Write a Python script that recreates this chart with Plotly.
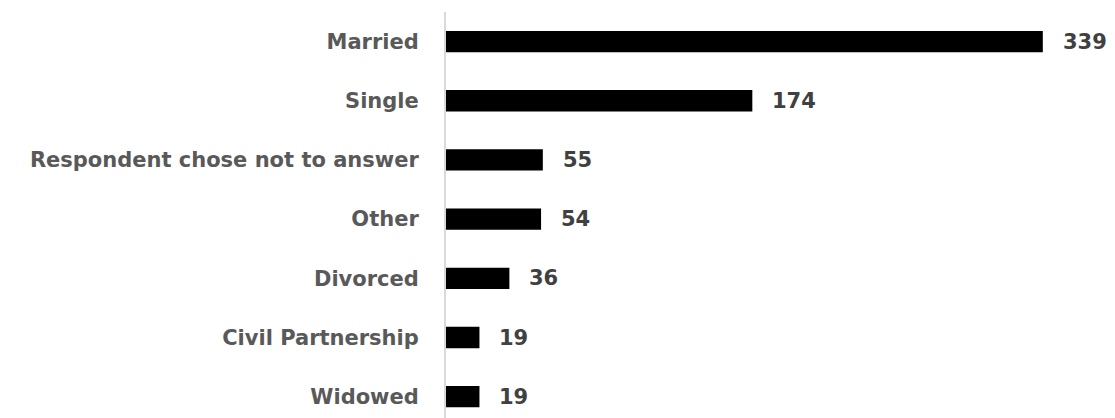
import plotly.graph_objects as go

categories = ['Married', 'Single', 'Respondent chose not to answer', 'Other',
              'Divorced', 'Civil Partnership', 'Widowed']
counts = [339, 174, 55, 54, 36, 19, 19]

font_family = 'DejaVu Sans'

fig = go.Figure()
fig.add_trace(go.Bar(
    x=counts,
    y=categories,
    orientation='h',
    marker=dict(color='#000000', line=dict(width=0)),
    width=0.36,
    hoverinfo='x+y',
))

# value labels sit a little to the right of each bar
for cat, val in zip(categories, counts):
    fig.add_annotation(
        x=val, y=cat, text=str(val),
        xanchor='left', yanchor='middle', xshift=18,
        showarrow=False,
        font=dict(family=font_family, size=21, color='#404040', weight='bold'),
    )

fig.update_layout(
    width=1115,
    height=418,
    margin=dict(l=446, r=0, t=12, b=0),
    plot_bgcolor='white',
    paper_bgcolor='white',
    showlegend=False,
    xaxis=dict(
        range=[0, 380],
        visible=False,
        showgrid=False,
        zeroline=False,
    ),
    yaxis=dict(
        range=[6.36, -0.5],
        showgrid=False,
        zeroline=False,
        showline=True,
        linecolor='#d9d9d9',
        linewidth=2,
        ticks='',
        ticklabelstandoff=21,
        tickfont=dict(family=font_family, size=21, color='#595959', weight='bold'),
    ),
)

# drop the browser's default body margin so the figure fills the window exactly
fig.write_html('out.html',
               config={'displayModeBar': False},
               post_script="document.body.style.margin='0';document.body.style.overflow='hidden';")
